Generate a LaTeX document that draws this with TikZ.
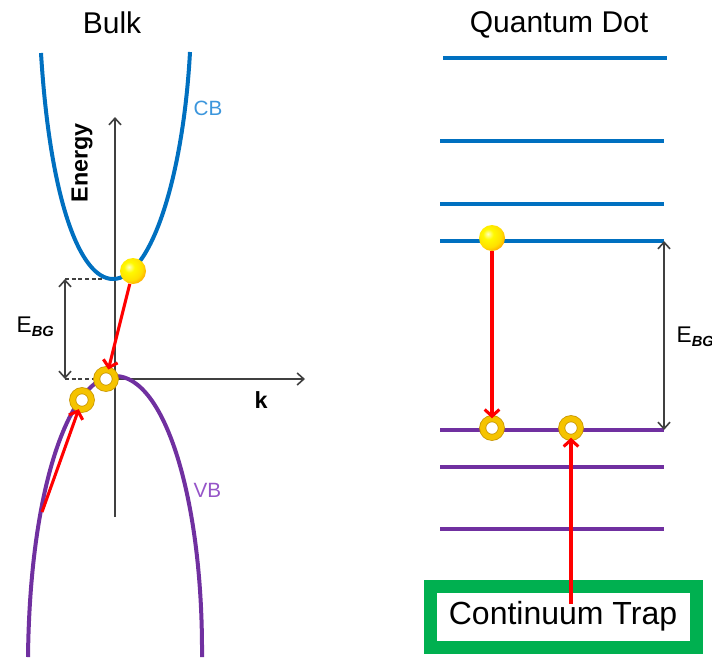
\documentclass[tikz,border=0pt]{standalone}
\usepackage{fontspec}
\setmainfont{Liberation Sans}
\usetikzlibrary{arrows.meta,positioning}
\definecolor{cbblue}{RGB}{0,112,192}
\definecolor{vbpurple}{RGB}{112,48,160}
\definecolor{cblbl}{RGB}{60,150,220}
\definecolor{vblbl}{RGB}{150,85,200}
\definecolor{ringgold}{RGB}{245,195,0}
\definecolor{ringedge}{RGB}{200,150,0}
\definecolor{trapgreen}{RGB}{0,176,80}
\definecolor{axgray}{RGB}{64,64,64}
\pgfdeclareradialshading{goldball}{\pgfpoint{-8bp}{8bp}}{%
  color(0bp)=(yellow!25!white); color(10bp)=(yellow!95!orange);
  color(24bp)=(yellow!75!orange); color(34bp)=(orange!75!yellow);
  color(42bp)=(orange!60!black); color(100bp)=(orange!60!black)}
\newcommand{\ebglbl}{E\raisebox{-0.35ex}{\fontsize{11}{11}\selectfont\bfseries\itshape BG}}
\tikzset{
  >={Straight Barb[length=5pt,width=9pt]},
  bandcb/.style={cbblue,line width=3pt},
  bandvb/.style={vbpurple,line width=3pt},
  lvlcb/.style={cbblue,line width=3pt},
  lvlvb/.style={vbpurple,line width=3pt},
  elec/.style={circle,shading=goldball,minimum size=19.5pt,inner sep=0pt},
  hole/.style={circle,draw=ringedge,double=ringgold,double distance=4pt,
    line width=0.6pt,fill=white,minimum size=14pt,inner sep=0pt},
  trans/.style={-{Straight Barb[length=5pt,width=11pt]},red,line width=2.3pt},
  axisln/.style={->,axgray,line width=1.2pt},
  gapln/.style={<->,axgray,line width=1.2pt},
  guide/.style={axgray,densely dashed,line width=0.8pt},
  ttl/.style={font=\fontsize{22.5}{26}\selectfont,anchor=base},
  bandlbl/.style={font=\fontsize{15.5}{18}\selectfont,anchor=west},
  traprect/.style={draw=trapgreen,line width=9.75pt,minimum width=199.5pt,
    minimum height=45.75pt,font=\fontsize{24}{28}\selectfont,inner sep=0pt},
}

\begin{document}
\begin{tikzpicture}[x=0.75pt,y=-0.75pt]
  \useasboundingbox (0,0) rectangle (712,657);
  % titles
  \node[ttl] (bulk) at (112,33) {Bulk};
  \node[ttl] (qdot) at (559,32) {Quantum Dot};

  % bulk: axes
  \coordinate (eBot) at (115,517);
  \coordinate (eTop) at (115,117);
  \coordinate (kO) at (115,379);
  \coordinate (kEnd) at (305,379);
  \draw[axisln] (eBot) -- (eTop);
  \draw[axisln] (kO) -- (kEnd);
  \node[rotate=90,font=\fontsize{17.5}{20}\selectfont\bfseries] (energy) at (82,163) {Energy};
  \node[font=\fontsize{17.5}{20}\selectfont\bfseries] (klbl) at (261,400) {k};

  % bulk: bands
  \draw[bandcb] (41,53) .. controls (50,200) and (80,279) .. (113,279)
    .. controls (150,279) and (183,180) .. (190,52);
  \draw[bandvb] (28,657) .. controls (30,480) and (72,376) .. (115,376)
    .. controls (165,376) and (203,500) .. (202,657);
  \node[bandlbl,text=cblbl] (cb) at (189,108) {CB};
  \node[bandlbl,text=vblbl] (vb) at (189,490) {VB};

  % bulk: gap
  \coordinate (gTop) at (65,279);
  \coordinate (gBot) at (65,379);
  \coordinate (cbMin) at (105,279);
  \coordinate (vbMax) at (100,379);
  \draw[guide] (gTop) -- (cbMin);
  \draw[guide] (gBot) -- (vbMax);
  \draw[gapln] (gTop) -- (gBot);
  \node[anchor=base west,font=\fontsize{17}{20}\selectfont] (ebgL) at (12,332) {\ebglbl};

  % bulk: carriers
  \node[elec] (e1) at (133,271) {};
  \node[hole] (h1) at (106,379) {};
  \node[hole] (h2) at (82,400) {};
  \coordinate (vbDeep) at (42,512);
  \draw[trans] (e1) -- (h1);
  \draw[trans] (vbDeep) -- (h2);

  % quantum dot: levels
  \draw[lvlcb] (443,58) -- (667,58);
  \foreach \y in {141,204} \draw[lvlcb] (440,\y) -- (664,\y);
  \draw[lvlcb] (440,241) coordinate (cb1a) -- (664,241) coordinate (cb1b);
  \draw[lvlvb] (440,430) coordinate (vb1a) -- (664,430) coordinate (vb1b);
  \foreach \y in {467,529} \draw[lvlvb] (440,\y) -- (664,\y);
  \draw[gapln] (cb1b) -- (vb1b);
  \node[anchor=base west,font=\fontsize{17}{20}\selectfont] (ebgR) at (672,342) {\ebglbl};

  % quantum dot: carriers and trap
  \node[traprect] (trap) at (563,616.5) {Continuum Trap};
  \node[elec] (e2) at (492,238) {};
  \node[hole] (h3) at (492,428) {};
  \node[hole] (h4) at (571,428) {};
  \coordinate (trapSrc) at (571,604);
  \draw[trans] (e2) -- (h3);
  \draw[trans] (trapSrc) -- (h4);
\end{tikzpicture}
\end{document}
